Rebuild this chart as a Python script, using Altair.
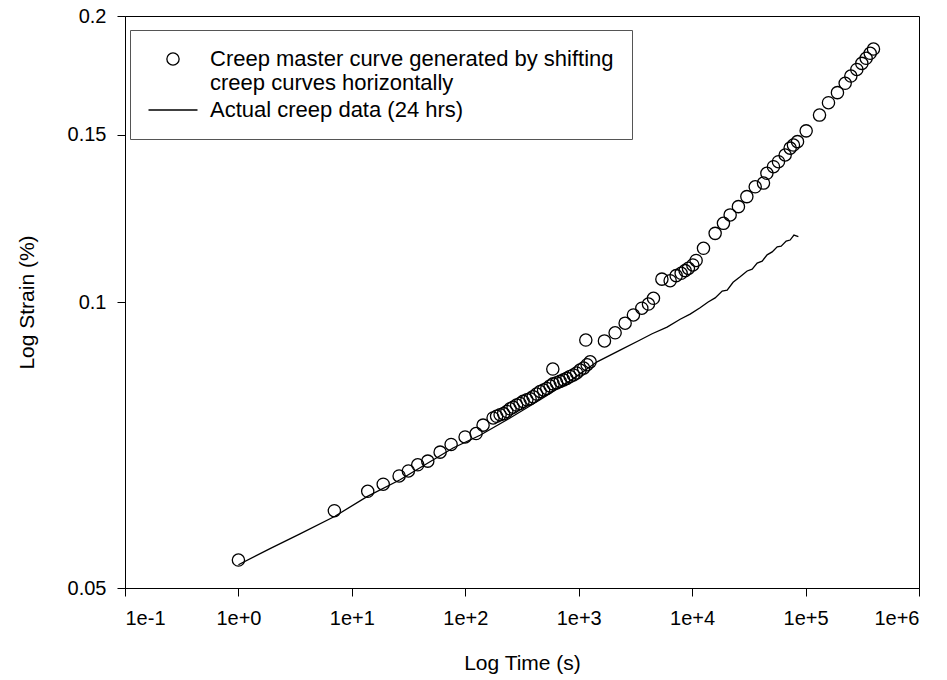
import altair as alt
import pandas as pd

# Creep master curve (circles): time (s), strain (%)
master_time = [1.0, 7.01, 13.8, 18.9, 26.1, 31.5, 38.1, 46.7, 60.0, 75.0, 99.6, 124.5, 143.5,
               175.8, 188.8, 202.8, 217.6, 232.3, 248.3, 264, 283.4, 304, 323.6, 349, 372.5,
               396, 425.6, 457, 490, 523, 559.5, 591, 595, 638.3, 686, 735.9, 785, 839.5, 898,
               958, 1028, 1104, 1155, 1186, 1261, 1686, 2094, 2566, 3036, 3600, 4120, 4560,
               5410, 6400, 7230, 8000, 8670, 9270, 10140, 10840, 12590, 15950, 18880, 21630,
               25590, 30360, 35970, 42560, 45600, 52120, 57680, 66070, 73110, 78180, 84900,
               101200, 132700, 159200, 191000, 223400, 250700, 283100, 313300, 342000, 371200,
               396900]
master_strain = [0.0535, 0.0603, 0.0632, 0.0643, 0.0656, 0.0664, 0.0674, 0.0680, 0.0695, 0.0708,
                 0.0721, 0.0727, 0.0742, 0.0755, 0.0758, 0.0761, 0.0763, 0.0767, 0.0772, 0.0775,
                 0.0779, 0.0782, 0.0786, 0.0789, 0.0791, 0.0795, 0.0800, 0.0805, 0.0808, 0.0811,
                 0.0816, 0.0850, 0.0820, 0.0822, 0.0825, 0.0828, 0.0831, 0.0835, 0.0838, 0.0842,
                 0.0848, 0.0852, 0.0912, 0.0859, 0.0865, 0.0910, 0.0928, 0.0950, 0.0969, 0.0985,
                 0.0995, 0.1009, 0.1057, 0.1053, 0.1066, 0.1072, 0.1079, 0.1085, 0.1094, 0.1106,
                 0.1139, 0.1181, 0.1210, 0.1235, 0.1260, 0.1291, 0.1322, 0.1334, 0.1366, 0.1388,
                 0.1405, 0.1428, 0.1452, 0.1463, 0.1475, 0.1514, 0.1573, 0.1621, 0.1661, 0.1699,
                 0.1729, 0.1757, 0.1783, 0.1805, 0.1827, 0.1846]

# Actual creep data (24 hrs) line
actual_time = [1.0, 1.90, 3.49, 7.1, 13.6, 26.6, 48.9, 78, 135, 248, 457, 840, 1452, 2318, 3475,
               4440, 6010, 7840, 9600, 11750, 13840, 15950, 18400, 20370, 22960, 26490, 30550,
               33830, 37430, 41430, 45800, 50770, 56230, 60970, 67430, 73110, 78960, 86400]
actual_strain = [0.0529, 0.0550, 0.0570, 0.0595, 0.0624, 0.0650, 0.0679, 0.0702, 0.0724, 0.0755,
                 0.0789, 0.0826, 0.0865, 0.0890, 0.0912, 0.0926, 0.0941, 0.0959, 0.0971, 0.0986,
                 0.1000, 0.1010, 0.1027, 0.1029, 0.1049, 0.1063, 0.1078, 0.1083, 0.1099, 0.1104,
                 0.1121, 0.1129, 0.1143, 0.1145, 0.1159, 0.1162, 0.1176, 0.1172]

x_ticks = [0.1, 1, 10, 100, 1000, 10000, 100000, 1000000]
y_ticks = [0.05, 0.1, 0.15, 0.2]
series_keys = ["master", "actual"]

df_m = pd.DataFrame({"t": master_time, "s": master_strain, "series": "master"})
df_a = pd.DataFrame({"t": actual_time, "s": actual_strain, "series": "actual"})

FONT = "Liberation Sans"

x_enc = alt.X("t:Q", scale=alt.Scale(type="log", domain=[0.1, 1e6], nice=False),
              axis=alt.Axis(values=x_ticks, title="Log Time (s)",
                            labelExpr="'1e' + (round(log(datum.value)/LN10) >= 0 ? '+' : '') + round(log(datum.value)/LN10)",
                            labelPadding=12, titlePadding=24))
y_enc = alt.Y("s:Q", scale=alt.Scale(type="log", domain=[0.05, 0.2], nice=False),
              axis=alt.Axis(values=y_ticks, title="Log Strain (%)", format="~g",
                            labelPadding=11, titlePadding=30))

color = alt.Color("series:N",
                  scale=alt.Scale(domain=series_keys, range=["black", "black"]),
                  legend=alt.Legend(
                      title=None, orient="none", legendX=5, legendY=14,
                      labelExpr="datum.value == 'master' ? ['Creep master curve generated by shifting', 'creep curves horizontally'] : 'Actual creep data (24 hrs)'",
                      labelLimit=700, labelFontSize=22, labelFont=FONT, labelColor="black",
                      labelOffset=26, symbolOffset=14, padding=18, strokeColor="#555555",
                      fillColor="white",
                      symbolSize=150, symbolStrokeWidth=1.3, symbolStrokeColor="black",
                      symbolFillColor="transparent", rowPadding=5))

points = alt.Chart(df_m).mark_point(filled=False, size=150, strokeWidth=1.3, opacity=1).encode(
    x=x_enc, y=y_enc, color=color, shape=alt.Shape("series:N",
        scale=alt.Scale(domain=series_keys, range=["circle", "M-4,0H4"])))
line = alt.Chart(df_a).mark_line(strokeWidth=1.3).encode(x=x_enc, y=y_enc, color=color)

chart = alt.layer(line, points).properties(
    width=794, height=572,
    autosize=alt.AutoSizeParams(type="none"),
    padding={"left": 125, "top": 16, "right": 28, "bottom": 92},
    background="white",
).configure_view(stroke="black", strokeWidth=1).configure_axis(
    grid=False, domainColor="black", tickColor="black", tickSize=8, domainWidth=1, tickWidth=1,
    labelFont=FONT, labelFontSize=20, labelColor="black",
    titleFont=FONT, titleFontSize=21, titleColor="black", titleFontWeight="normal",
)

chart.save("out.html", embed_options={"renderer": "svg", "actions": False})
